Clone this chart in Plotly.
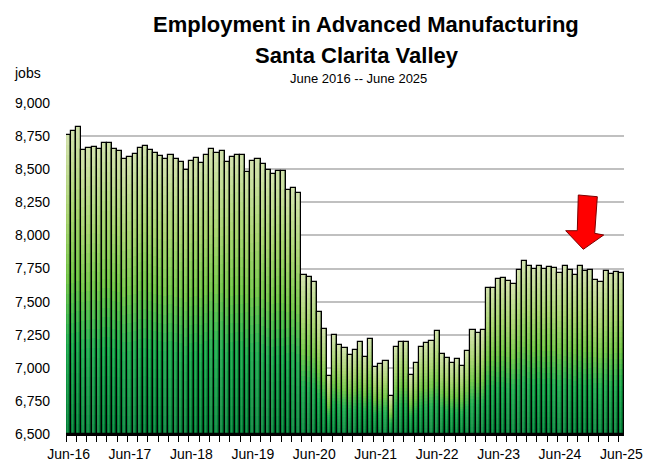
import plotly.graph_objects as go

# Monthly employment in advanced manufacturing, Santa Clarita Valley (Jun-16 .. Jun-25)
jobs = [
    8761, 8786, 8816, 8643, 8658, 8668, 8653, 8700, 8700, 8655, 8638, 8577,
    8595, 8617, 8663, 8675, 8645, 8620, 8600, 8580, 8605, 8577, 8552, 8494,
    8564, 8582, 8549, 8605, 8650, 8622, 8635, 8552, 8590, 8605, 8605, 8481,
    8560, 8575, 8537, 8494, 8461, 8484, 8484, 8340, 8360, 8320, 7699, 7683,
    7646, 7419, 7293, 6936, 7248, 7175, 7152, 7097, 7137, 7192, 7079, 7215,
    7004, 7031, 7051, 6789, 7159, 7192, 7192, 6943, 7036, 7157, 7187, 7202,
    7280, 7104, 7076, 7036, 7064, 7016, 7127, 7283, 7265, 7283, 7605, 7600,
    7673, 7681, 7658, 7633, 7736, 7809, 7771, 7746, 7769, 7749, 7759, 7757,
    7714, 7769, 7739, 7703, 7769, 7734, 7742, 7661, 7646, 7729, 7711, 7721,
    7719,
]
year_labels = ["Jun-16", "Jun-17", "Jun-18", "Jun-19", "Jun-20",
               "Jun-21", "Jun-22", "Jun-23", "Jun-24", "Jun-25"]
y_ticks = [6500, 6750, 7000, 7250, 7500, 7750, 8000, 8250, 8500, 8750, 9000]

Y_MIN, Y_MAX = 6500, 9000
FONT = "Liberation Sans, Arial, sans-serif"

n = len(jobs)
xs = list(range(n))

# vertical gradient: green at the base, pale yellow-green at the top
stops = [
    (0.00, (0, 126, 54)),
    (0.30, (20, 166, 72)),
    (0.52, (108, 194, 64)),
    (0.72, (162, 208, 104)),
    (1.00, (208, 224, 170)),
]


def grad(t):
    for (t0, c0), (t1, c1) in zip(stops[:-1], stops[1:]):
        if t <= t1:
            f = (t - t0) / (t1 - t0)
            return "rgb(%d,%d,%d)" % tuple(round(a + (b - a) * f) for a, b in zip(c0, c1))
    return "rgb(%d,%d,%d)" % stops[-1][1]


fig = go.Figure()
SEG = 30
for k in range(SEG):
    h = [(v - Y_MIN) / SEG for v in jobs]
    base = [Y_MIN + k * hh for hh in h]
    fig.add_trace(go.Bar(
        x=xs, y=h, base=base, width=1.0,
        marker=dict(color=grad((k + 0.5) / SEG), line=dict(width=0)),
        hoverinfo="skip", showlegend=False,
    ))

# side shading on each bar
fig.add_trace(go.Bar(
    x=xs, y=[v - Y_MIN for v in jobs], base=Y_MIN, width=0.32, offset=0.14,
    marker=dict(color="rgba(0,40,10,0.28)", line=dict(width=0)),
    hoverinfo="skip", showlegend=False,
))
fig.add_trace(go.Bar(
    x=xs, y=[v - Y_MIN for v in jobs], base=Y_MIN, width=0.3, offset=-0.36,
    marker=dict(color="rgba(255,255,230,0.12)", line=dict(width=0)),
    hoverinfo="skip", showlegend=False,
))
# black outlines
fig.add_trace(go.Bar(
    x=xs, y=[v - Y_MIN for v in jobs], base=Y_MIN, width=1.0,
    marker=dict(color="rgba(0,0,0,0)", line=dict(color="black", width=1.2)),
    hovertemplate="%{customdata:,}<extra></extra>", customdata=jobs,
    showlegend=False,
))

# red arrow (paper coordinates of the plot area)
L, R, T, B = 66, 624, 103, 434


def px(x, y):
    return "%.4f,%.4f" % ((x - L) / (R - L), (B - y) / (B - T))


arrow_pts = [(578.3, 195), (597.3, 196.7), (594.7, 233.3), (603.7, 235),
             (583.3, 249.3), (565.7, 230.7), (577.3, 230.7)]
path = "M " + " L ".join(px(*p) for p in arrow_pts) + " Z"
fig.add_shape(type="path", path=path, xref="paper", yref="paper",
              fillcolor="#ff0000", line=dict(color="#7a0000", width=1), layer="above")

fig.update_layout(
    width=656, height=467,
    margin=dict(l=L, r=656 - R, t=T, b=467 - B),
    paper_bgcolor="white", plot_bgcolor="white",
    barmode="overlay", bargap=0,
    font=dict(family=FONT, size=14, color="black"),
    showlegend=False,
    annotations=[
        dict(text="<b>Employment in Advanced Manufacturing</b>", xref="paper", yref="paper",
             x=(366 - L) / (R - L), y=(B - 25) / (B - T), showarrow=False,
             font=dict(size=22, family=FONT), xanchor="center", yanchor="middle"),
        dict(text="<b>Santa Clarita Valley</b>", xref="paper", yref="paper",
             x=(357 - L) / (R - L), y=(B - 55) / (B - T), showarrow=False,
             font=dict(size=22, family=FONT), xanchor="center", yanchor="middle"),
        dict(text="June 2016 -- June 2025", xref="paper", yref="paper",
             x=(358 - L) / (R - L), y=(B - 79) / (B - T), showarrow=False,
             font=dict(size=13, family=FONT), xanchor="center", yanchor="middle"),
        dict(text="jobs", xref="paper", yref="paper",
             x=(12 - L) / (R - L), y=(B - 73) / (B - T), showarrow=False,
             font=dict(size=14, family=FONT), xanchor="left", yanchor="middle"),
    ],
)

fig.update_xaxes(
    range=[-0.5, n - 0.5], automargin=False,
    tickmode="array", tickvals=xs[::12], ticktext=year_labels,
    ticks="", ticklabelstandoff=6,
    showgrid=False, zeroline=False,
    showline=True, linecolor="black", linewidth=1.5,
    minor=dict(tickmode="array", tickvals=[i - 0.5 for i in range(0, n, 2)],
               ticks="outside", ticklen=6, tickcolor="black", tickwidth=1, showgrid=False),
    tickfont=dict(size=14),
)
fig.update_yaxes(
    range=[Y_MIN, Y_MAX], automargin=False,
    tickmode="array", tickvals=y_ticks, tickformat=",",
    showgrid=True, gridcolor="#c0c0c0", gridwidth=1.5,
    zeroline=False, showline=False, ticks="", ticklabelstandoff=15,
    tickfont=dict(size=14),
)

fig.write_html("out.html")
